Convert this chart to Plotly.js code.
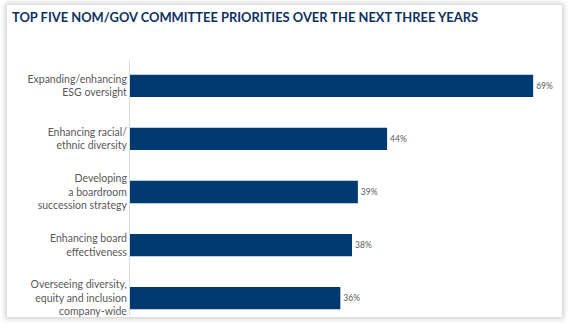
<!DOCTYPE html>
<html>
<head>
<meta charset="utf-8">
<script src="https://cdn.plot.ly/plotly-3.0.1.min.js"></script>
<style>
  html, body { margin: 0; padding: 0; background: #ffffff; width: 569px; height: 324px; overflow: hidden; }
  #frame { position: absolute; left: 7px; top: 5px; width: 555px; height: 312px; background: #ffffff;
           box-shadow: 0 0 5px 2px rgba(0,0,0,0.18); }
  #chart { position: absolute; left: 0; top: 0; width: 569px; height: 324px; }
</style>
</head>
<body>
<div id="frame"></div>
<div id="chart"></div>
<script>
const categories = [
  "Expanding/enhancing<br>ESG oversight",
  "Enhancing racial/<br>ethnic diversity",
  "Developing<br>a boardroom<br>succession strategy",
  "Enhancing board<br>effectiveness",
  "Overseeing diversity,<br>equity and inclusion<br>company-wide"
];
const values = [69, 44, 39, 38, 36];
const valueLabels = values.map(v => v + "%");
const titleText = "TOP FIVE NOM/GOV COMMITTEE PRIORITIES OVER THE NEXT THREE YEARS";

const trace = {
  type: "bar",
  orientation: "h",
  y: categories,
  x: values,
  text: valueLabels,
  textposition: "outside",
  cliponaxis: false,
  textfont: { family: "Lato, sans-serif", size: 8.5, color: "#595959" },
  marker: { color: "#003A70", line: { width: 0 } },
  width: 0.42,
  hoverinfo: "none"
};

const layout = {
  width: 569,
  height: 324,
  paper_bgcolor: "rgba(0,0,0,0)",
  plot_bgcolor: "rgba(0,0,0,0)",
  margin: { l: 130, r: 30, t: 60, b: 9 },
  showlegend: false,
  title: {
    text: "<b>" + titleText + "</b>",
    font: { family: "Lato, sans-serif", size: 12.9, color: "#0D3260" },
    x: 12 / 569, xanchor: "left", xref: "container",
    y: 1 - 17 / 324, yanchor: "middle", yref: "container"
  },
  xaxis: {
    range: [0, 70],
    showgrid: false, zeroline: false, showline: false,
    showticklabels: false, ticks: ""
  },
  yaxis: {
    type: "category",
    range: [4.32, -0.49],
    showgrid: false, zeroline: false,
    showline: true, linecolor: "#dcdcdc", linewidth: 1,
    ticks: "", ticklen: 0,
    tickfont: { family: "Lato, sans-serif", size: 10.5, color: "#595959" }
  },
  font: { family: "Lato, sans-serif" }
};

Plotly.newPlot("chart", [trace], layout, { displayModeBar: false, staticPlot: true });
</script>
</body>
</html>
